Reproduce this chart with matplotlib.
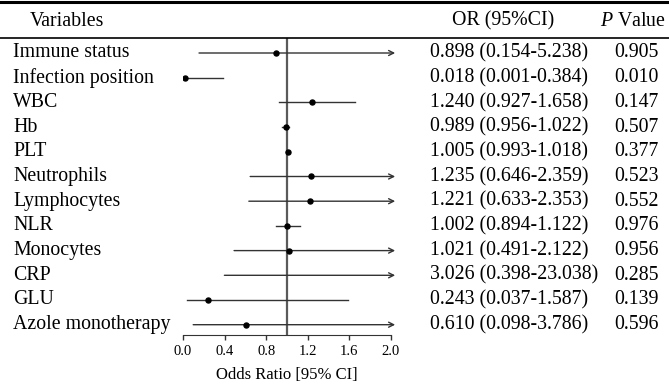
import matplotlib.pyplot as plt
from matplotlib.transforms import blended_transform_factory

plt.rcParams['font.family'] = ['Liberation Serif', 'DejaVu Serif']
plt.rcParams['mathtext.fontset'] = 'custom'
plt.rcParams['mathtext.it'] = 'Liberation Serif:italic'
plt.rcParams['mathtext.rm'] = 'Liberation Serif'

variables = ['Immune status', 'Infection position', 'WBC', 'Hb', 'PLT', 'Neutrophils',
             'Lymphocytes', 'NLR', 'Monocytes', 'CRP', 'GLU', 'Azole monotherapy']
odds = [0.898, 0.018, 1.240, 0.989, 1.005, 1.235, 1.221, 1.002, 1.021, 3.026, 0.243, 0.610]
ci_low = [0.154, 0.001, 0.927, 0.956, 0.993, 0.646, 0.633, 0.894, 0.491, 0.398, 0.037, 0.098]
ci_high = [5.238, 0.384, 1.658, 1.022, 1.018, 2.359, 2.353, 1.122, 2.122, 23.038, 1.587, 3.786]
p_values = ['0.905', '0.010', '0.147', '0.507', '0.377', '0.523',
            '0.552', '0.976', '0.956', '0.285', '0.139', '0.596']
x_ticks = [0.0, 0.4, 0.8, 1.2, 1.6, 2.0]

W, H = 669, 385
fig = plt.figure(figsize=(W / 100, H / 100), dpi=100)

# forest panel, placed in pixel terms
row0, step = 53, 24.7
top_px, bot_px = 38, 335
left_px, right_px = 183, 391
ax = fig.add_axes([left_px / W, 1 - bot_px / H, (right_px - left_px) / W, (bot_px - top_px) / H])
ax.set_xlim(0, 2.0)
ax.set_ylim((bot_px - row0) / step, (top_px - row0) / step)

ax.axvline(1.0, color='#5a5a5a', lw=1.6, zorder=1)

for i in range(len(variables)):
    lo, hi = ci_low[i], ci_high[i]
    if hi > 2.0:
        # CI runs off the scale -> arrow
        ax.annotate('', xy=(2.04, i), xytext=(lo, i), annotation_clip=False,
                    arrowprops=dict(arrowstyle='->', color='#333333', lw=1.0,
                                    mutation_scale=9, shrinkA=0, shrinkB=0))
    else:
        ax.plot([lo, hi], [i, i], color='#333333', lw=1.0, zorder=2)
    ax.plot(odds[i], i, 'o', color='black', ms=3.6, zorder=3)

for s in ['top', 'left', 'right']:
    ax.spines[s].set_visible(False)
ax.spines['bottom'].set_color('#333333')
ax.set_yticks([])
ax.set_xticks(x_ticks)
ax.set_xticklabels(['%.1f' % t for t in x_ticks], fontsize=10.5)
ax.tick_params(axis='x', length=3.5, width=1, color='#333333', pad=4)
ax.set_xlabel('Odds Ratio [95% CI]', fontsize=12, labelpad=6)

# table text
tr = blended_transform_factory(fig.transFigure, ax.transData)
fs = 14.3
for i in range(len(variables)):
    ax.text(13 / W, i, variables[i], transform=tr, fontsize=fs, va='center', ha='left')
    ax.text(430 / W, i, '%.3f (%.3f-%.3f)' % (odds[i], ci_low[i], ci_high[i]),
            transform=tr, fontsize=fs, va='center', ha='left')
    ax.text(614 / W, i, p_values[i], transform=tr, fontsize=fs, va='center', ha='left')

hy = 1 - 21 / H
fig.text(30 / W, hy, 'Variables', fontsize=fs, va='center', ha='left')
fig.text(503 / W, hy, 'OR (95%CI)', fontsize=fs, va='center', ha='center')
fig.text(600 / W, hy, r'$P$ Value', fontsize=fs, va='center', ha='left')

# header rules
fig.add_artist(plt.Line2D([0, 1], [1 - 1.5 / H, 1 - 1.5 / H], color='black', lw=2.2))
fig.add_artist(plt.Line2D([0, 1], [1 - top_px / H, 1 - top_px / H], color='black', lw=1.2))

fig.savefig('out.png', dpi=100)
